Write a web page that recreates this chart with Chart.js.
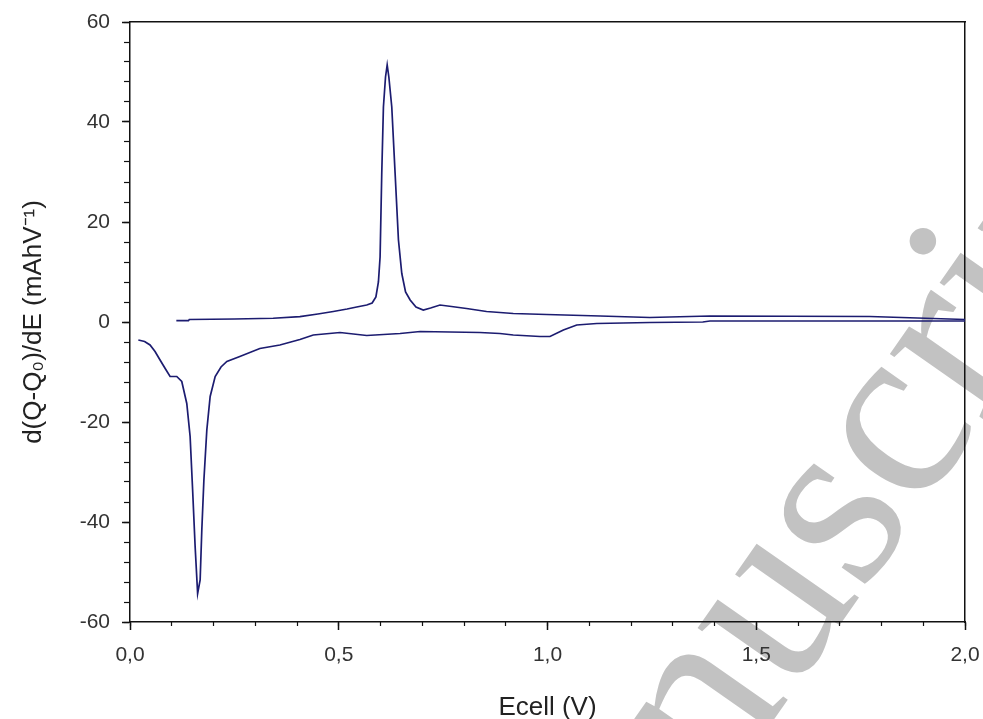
<!DOCTYPE html>
<html>
<head>
<meta charset="utf-8">
<script src="https://cdn.jsdelivr.net/npm/chart.js@4.4.1/dist/chart.umd.min.js"></script>
<style>
  html, body { margin: 0; padding: 0; background: #fff; }
  #wrap { width: 983px; height: 719px; }
</style>
</head>
<body>
<div id="wrap"><canvas id="dqdeChart" width="983" height="719"></canvas></div>
<script>
// charge branch (upper curve)
const chargeE = [0.111, 0.140, 0.142, 0.25, 0.343, 0.407, 0.45, 0.487, 0.52, 0.543, 0.567, 0.580, 0.589, 0.595, 0.599, 0.603, 0.607, 0.612, 0.616, 0.620, 0.627, 0.635, 0.643, 0.651, 0.660, 0.671, 0.685, 0.7025, 0.72, 0.7425, 0.77, 0.806, 0.854, 0.918, 0.998, 1.126, 1.245, 1.389, 1.772, 1.924, 2.0];
const chargeDQ = [0.27, 0.27, 0.5, 0.6, 0.75, 1.07, 1.6, 2.1, 2.6, 3.0, 3.4, 3.8, 5.0, 8, 13, 29.7, 43, 49, 51.4, 49, 43, 29.7, 16.4, 9.7, 6, 4.4, 3.0, 2.4, 2.8, 3.4, 3.1, 2.7, 2.1, 1.7, 1.5, 1.2, 0.9, 1.2, 1.1, 0.7, 0.5];

// discharge branch (lower curve)
const dischargeE = [0.020, 0.035, 0.048, 0.060, 0.072, 0.085, 0.096, 0.112, 0.124, 0.136, 0.144, 0.150, 0.156, 0.162, 0.168, 0.172, 0.177, 0.184, 0.192, 0.204, 0.218, 0.232, 0.263, 0.311, 0.359, 0.407, 0.439, 0.503, 0.567, 0.647, 0.695, 0.838, 0.886, 0.918, 0.982, 1.006, 1.038, 1.070, 1.118, 1.245, 1.372, 1.389, 2.0];
const dischargeDQ = [-3.6, -3.9, -4.6, -5.9, -7.6, -9.4, -10.9, -10.9, -11.9, -16.3, -22.9, -33.6, -44.9, -54.3, -51.6, -41.6, -31.6, -21.6, -14.9, -10.9, -9.0, -7.9, -6.9, -5.3, -4.6, -3.5, -2.6, -2.1, -2.7, -2.3, -1.9, -2.1, -2.3, -2.6, -2.9, -2.9, -1.6, -0.6, -0.3, -0.1, 0.0, 0.2, 0.2];

const xMin = 0, xMax = 2, xMajor = 0.5, xMinor = 0.1;
const yMin = -60, yMax = 60, yMajor = 20, yMinor = 4;

const lineColor = '#1c1c70';
const toPoints = (xs, ys) => xs.map((x, i) => ({ x: x, y: ys[i] }));
const commaLabel = v => Number(v).toFixed(1).replace('.', ',');

// grey "Accepted Manuscript" stamp behind the plot
const watermark = {
  id: 'watermark',
  beforeDraw(chart) {
    const ctx = chart.ctx;
    ctx.save();
    ctx.translate(527, 1072);
    ctx.rotate(-55 * Math.PI / 180);
    ctx.font = '250px "Liberation Serif", "DejaVu Serif", serif';
    ctx.fillStyle = '#c2c2c2';
    ctx.textBaseline = 'alphabetic';
    ctx.fillText('Manuscript', 0, 0);
    ctx.restore();
  }
};

// no extra room for overflowing end labels, the plot box is fixed
const noEdgePad = s => { s.paddingLeft = 0; s.paddingRight = 0; s.paddingTop = 0; s.paddingBottom = 0; };

const tickFont = { family: '"Liberation Sans", Arial, sans-serif', size: 21 };
const titleFont = { family: '"Liberation Sans", Arial, sans-serif', size: 26 };

new Chart(document.getElementById('dqdeChart').getContext('2d'), {
  type: 'scatter',
  data: {
    datasets: [{
      label: 'charge',
      data: toPoints(chargeE, chargeDQ),
      showLine: true,
      borderColor: lineColor,
      borderWidth: 1.7,
      pointRadius: 0,
      tension: 0
    }, {
      label: 'discharge',
      data: toPoints(dischargeE, dischargeDQ),
      showLine: true,
      borderColor: lineColor,
      borderWidth: 1.7,
      pointRadius: 0,
      tension: 0
    }]
  },
  options: {
    responsive: false,
    animation: false,
    layout: { padding: { top: 22, right: 18, bottom: 0, left: 0 } },
    plugins: {
      legend: { display: false },
      tooltip: { enabled: false }
    },
    scales: {
      x: {
        type: 'linear', position: 'bottom', weight: 1,
        min: xMin, max: xMax,
        afterFit: s => { s.height = 97; noEdgePad(s); },
        border: { display: true, color: '#111', width: 1.5 },
        grid: { drawOnChartArea: false, tickLength: 8, tickColor: '#111', tickWidth: 1.5 },
        ticks: { stepSize: xMajor, padding: 13, color: '#333', font: tickFont, callback: commaLabel, maxRotation: 0 },
        title: { display: true, text: 'Ecell (V)', color: '#222', font: titleFont, padding: { top: 0, bottom: -4 } }
      },
      xMinor: {
        type: 'linear', position: 'bottom', weight: 0,
        min: xMin, max: xMax,
        afterFit: s => { s.height = 0; noEdgePad(s); },
        border: { display: false },
        grid: { drawOnChartArea: false, tickLength: 4, tickColor: '#111', tickWidth: 1.2 },
        ticks: { stepSize: xMinor, display: false }
      },
      xTop: {
        type: 'linear', position: 'top',
        min: xMin, max: xMax,
        afterFit: s => { s.height = 0; noEdgePad(s); },
        border: { display: true, color: '#111', width: 1.5 },
        grid: { display: false },
        ticks: { display: false }
      },
      y: {
        type: 'linear', position: 'left', weight: 1,
        min: yMin, max: yMax,
        afterFit: s => { s.width = 130; noEdgePad(s); },
        border: { display: true, color: '#111', width: 1.5 },
        grid: { drawOnChartArea: false, tickLength: 8, tickColor: '#111', tickWidth: 1.5 },
        ticks: { stepSize: yMajor, padding: 12, color: '#333', font: tickFont },
        title: { display: true, text: 'd(Q-Q\u2080)/dE (mAhV\u207B\u00B9)', color: '#222', font: titleFont, padding: { top: 18, bottom: 0 } }
      },
      yMinor: {
        type: 'linear', position: 'left', weight: 0,
        min: yMin, max: yMax,
        afterFit: s => { s.width = 0; noEdgePad(s); },
        border: { display: false },
        grid: { drawOnChartArea: false, tickLength: 6, tickColor: '#111', tickWidth: 1.2 },
        ticks: { stepSize: yMinor, display: false }
      },
      yRight: {
        type: 'linear', position: 'right',
        min: yMin, max: yMax,
        afterFit: s => { s.width = 0; noEdgePad(s); },
        border: { display: true, color: '#111', width: 1.5 },
        grid: { display: false },
        ticks: { display: false }
      }
    }
  },
  plugins: [watermark]
});
</script>
</body>
</html>
